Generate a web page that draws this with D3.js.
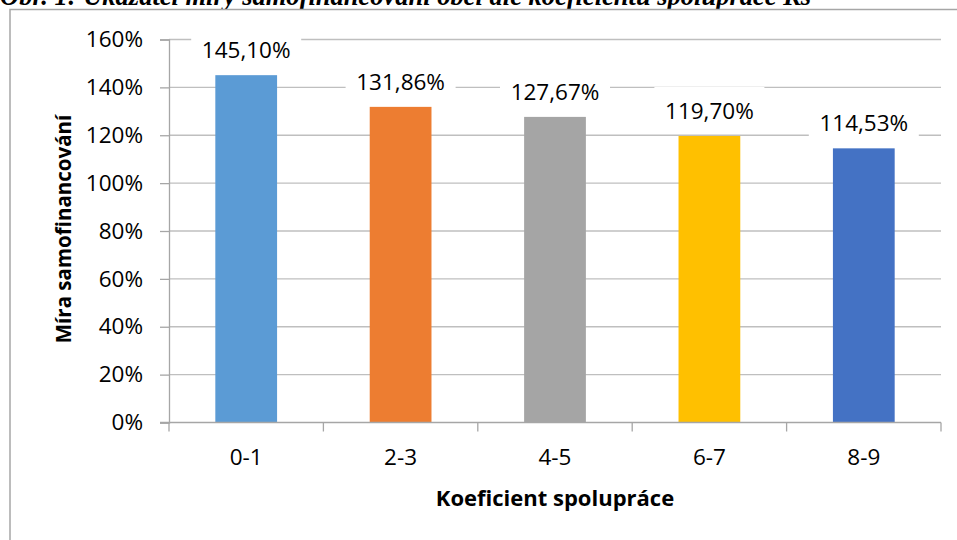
<!DOCTYPE html>
<html><head><meta charset="utf-8">
<script src="https://cdn.jsdelivr.net/npm/d3@7"></script>
<style>html,body{margin:0;padding:0;background:#fff;overflow:hidden}</style>
</head><body>
<script>
const categories = ["0-1", "2-3", "4-5", "6-7", "8-9"];
const values = [145.10, 131.86, 127.67, 119.70, 114.53];
const valueLabels = ["145,10%", "131,86%", "127,67%", "119,70%", "114,53%"];
const colors = ["#5b9bd5", "#ed7d31", "#a5a5a5", "#ffc000", "#4472c4"];
const yTicks = [0, 20, 40, 60, 80, 100, 120, 140, 160];
const titleText = "Obr. 1: Ukazatel míry samofinancování obcí dle koeficientu spolupráce Ks";
const yTitle = "Míra samofinancování";
const xTitle = "Koeficient spolupráce";

(function () {
const W = 957, H = 540;
const svg = d3.select("body").append("svg").attr("width", W).attr("height", H);
const font = "'Open Sans', sans-serif";

// title (cut off at top, as in the source)
svg.append("text").attr("x", 0).attr("y", 5)
  .attr("font-family", "'Liberation Serif', 'Times New Roman', serif")
  .attr("font-weight", "bold").attr("font-style", "italic")
  .attr("font-size", 26.5).attr("fill", "#000").text(titleText);

// chart frame
svg.append("rect").attr("x", 10).attr("y", 9.5).attr("width", 1000).attr("height", 600)
  .attr("fill", "#fff").attr("stroke", "#a6a6a6").attr("stroke-width", 1.5);

const pl = 169, pr = 941, pt = 39.5, pb = 422.5;
const x = d3.scaleBand().domain(categories).range([pl, pr]).paddingInner(0.6).paddingOuter(0.3);
const y = d3.scaleLinear().domain([0, 160]).range([pb, pt]);

// gridlines
svg.append("g").selectAll("line").data(yTicks.filter(d => d > 0)).join("line")
  .attr("x1", pl).attr("x2", pr)
  .attr("y1", d => y(d)).attr("y2", d => y(d))
  .attr("stroke", "#bfbfbf").attr("stroke-width", 1.3);

// bars
svg.append("g").selectAll("rect").data(values).join("rect")
  .attr("x", (d, i) => x(categories[i])).attr("width", x.bandwidth())
  .attr("y", d => y(d)).attr("height", d => y(0) - y(d))
  .attr("fill", (d, i) => colors[i]);

// y axis
const yAxis = svg.append("g").attr("transform", `translate(${pl},0)`)
  .call(d3.axisLeft(y).tickValues(yTicks).tickFormat(d => d + "%").tickSize(9).tickPadding(17));
yAxis.select(".domain").attr("stroke", "#a6a6a6").attr("stroke-width", 1.3);
yAxis.selectAll(".tick line").attr("stroke", "#a6a6a6").attr("stroke-width", 1.3);
yAxis.selectAll(".tick text").attr("font-family", font).attr("font-size", 22.5).attr("fill", "#000");

// x axis baseline & ticks at category boundaries
const step = x.step();
const bounds = d3.range(categories.length + 1).map(i => pl + i * step);
svg.append("line").attr("x1", pl - 9).attr("x2", pr).attr("y1", pb).attr("y2", pb)
  .attr("stroke", "#a6a6a6").attr("stroke-width", 1.3);
svg.append("g").selectAll("line").data(bounds).join("line")
  .attr("x1", d => d).attr("x2", d => d).attr("y1", pb).attr("y2", pb + 9)
  .attr("stroke", "#a6a6a6").attr("stroke-width", 1.3);
svg.append("g").selectAll("text").data(categories).join("text")
  .attr("x", d => x(d) + x.bandwidth() / 2).attr("y", 465)
  .attr("text-anchor", "middle").attr("font-family", font).attr("font-size", 22.5)
  .attr("fill", "#000").text(d => d);

// data labels with white boxes
const lg = svg.append("g").selectAll("g").data(values).join("g")
  .attr("transform", (d, i) => `translate(${x(categories[i]) + x.bandwidth() / 2},${y(d) - 25})`);
lg.append("rect").attr("x", -55).attr("width", 110).attr("y", -24).attr("height", 40).attr("fill", "#fff");
lg.append("text").attr("text-anchor", "middle").attr("dy", "0.35em")
  .attr("font-family", font).attr("font-size", 22.5).attr("fill", "#000")
  .text((d, i) => valueLabels[i]);

// axis titles
svg.append("text").attr("transform", `translate(71,${(pt + pb) / 2 - 2}) rotate(-90)`)
  .attr("text-anchor", "middle").attr("font-family", font).attr("font-weight", "bold")
  .attr("font-size", 20.5).attr("fill", "#000").text(yTitle);
svg.append("text").attr("x", (pl + pr) / 2).attr("y", 506)
  .attr("text-anchor", "middle").attr("font-family", font).attr("font-weight", "bold")
  .attr("font-size", 22).attr("fill", "#000").text(xTitle);
})();
</script>
</body></html>
